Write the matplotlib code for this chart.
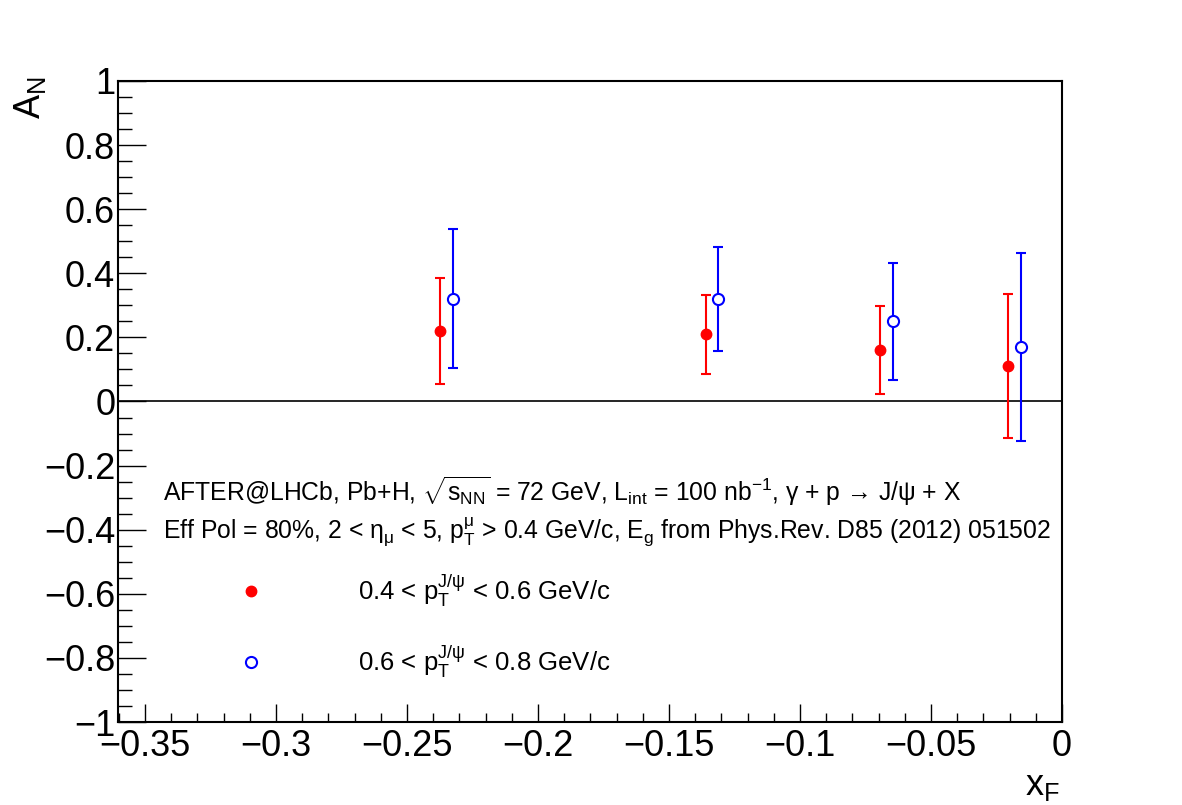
import matplotlib
matplotlib.use("Agg")
import matplotlib.pyplot as plt
from matplotlib.ticker import MultipleLocator

plt.rcParams.update({
    "font.family": ["Liberation Sans", "DejaVu Sans"],
    "mathtext.fontset": "custom",
    "mathtext.rm": "Liberation Sans",
    "mathtext.it": "Liberation Sans",
    "mathtext.bf": "Liberation Sans:bold",
    "mathtext.sf": "Liberation Sans",
})

# pT^{J/psi} in 0.4-0.6 GeV/c (red, filled)
xf_low = [-0.2374, -0.1359, -0.0695, -0.0205]
an_low = [0.22, 0.21, 0.16, 0.11]
err_low = [0.165, 0.123, 0.137, 0.225]

# pT^{J/psi} in 0.6-0.8 GeV/c (blue, open)
xf_high = [-0.2325, -0.1313, -0.0644, -0.0155]
an_high = [0.32, 0.32, 0.25, 0.17]
err_high = [0.217, 0.162, 0.183, 0.292]

label_low = r"0.4 < $\mathrm{p_{T}^{J/\psi}}$ < 0.6 GeV/c"
label_high = r"0.6 < $\mathrm{p_{T}^{J/\psi}}$ < 0.8 GeV/c"
line1 = (r"AFTER@LHCb, Pb+H, $\sqrt{\mathrm{s_{NN}}}$ = 72 GeV, L$_{\mathrm{int}}$ = 100 nb$^{-1}$,"
         " \u03b3 + p \u2192 J/\u03c8 + X")
line2 = (r"Eff Pol = 80%, 2 < $\eta_{\mu}$ < 5, $\mathrm{p_{T}^{\mu}}$ > 0.4 GeV/c, E$_{\mathrm{g}}$"
         r" from Phys.Rev. D85 (2012) 051502")

fig = plt.figure(figsize=(11.82, 8.05), dpi=100)
ax = fig.add_axes([0.0998, 0.1031, 0.7987, 0.7963])

ax.axhline(0, color="black", linewidth=1.2, zorder=1)

ax.errorbar(xf_low, an_low, yerr=err_low, fmt="o", color="red", markersize=7.5,
            elinewidth=1.5, capsize=3.5, capthick=1.5, zorder=3)
ax.errorbar(xf_high, an_high, yerr=err_high, fmt="o", color="blue", mfc="white",
            mec="blue", mew=1.5, markersize=8, elinewidth=1.5, capsize=3.5,
            capthick=1.5, zorder=3)

ax.set_xlim(-0.3603, 0)
ax.set_ylim(-1, 1)
ax.xaxis.set_major_locator(MultipleLocator(0.05))
ax.xaxis.set_minor_locator(MultipleLocator(0.01))
ax.yaxis.set_major_locator(MultipleLocator(0.2))
ax.yaxis.set_minor_locator(MultipleLocator(0.05))

ax.tick_params(axis="y", which="major", direction="in", length=20, width=1,
               labelsize=26, pad=2)
ax.tick_params(axis="y", which="minor", direction="in", length=10, width=1)
ax.tick_params(axis="x", which="major", direction="in", length=13, width=1,
               labelsize=26, pad=5)
ax.tick_params(axis="x", which="minor", direction="in", length=6.5, width=1)


def fmt(v):
    if abs(v) < 1e-9:
        return "0"
    s = f"{v:.2f}".rstrip("0").rstrip(".")
    return s.replace("-", "\u2212")


ax.set_yticks(ax.get_yticks())
ax.set_yticklabels([fmt(v) for v in ax.get_yticks()])
ax.set_xticks(ax.get_xticks())
ax.set_xticklabels([fmt(v) for v in ax.get_xticks()])
ax.set_xlim(-0.3603, 0)
ax.set_ylim(-1, 1)

for s in ax.spines.values():
    s.set_linewidth(1.5)

fig.text(0.010, 0.905, r"A$_{\mathrm{N}}$", fontsize=26, rotation=90, ha="left", va="top")
fig.text(0.897, 0.003, r"x$_{\mathrm{F}}$", fontsize=26, ha="right", va="bottom")

fig.text(0.138, 0.378, line1, fontsize=17.8, ha="left", va="baseline")
fig.text(0.138, 0.331, line2, fontsize=17.8, ha="left", va="baseline")

fig.lines.append(plt.Line2D([0.2124], [0.2658], transform=fig.transFigure, marker="o",
                            color="red", markersize=7.5, linestyle=""))
fig.lines.append(plt.Line2D([0.2124], [0.1776], transform=fig.transFigure, marker="o",
                            color="blue", mfc="white", mew=1.5, markersize=8, linestyle=""))
fig.text(0.303, 0.2658, label_low, fontsize=18.5, ha="left", va="center")
fig.text(0.303, 0.1776, label_high, fontsize=18.5, ha="left", va="center")

fig.savefig("out.png", dpi=100)
